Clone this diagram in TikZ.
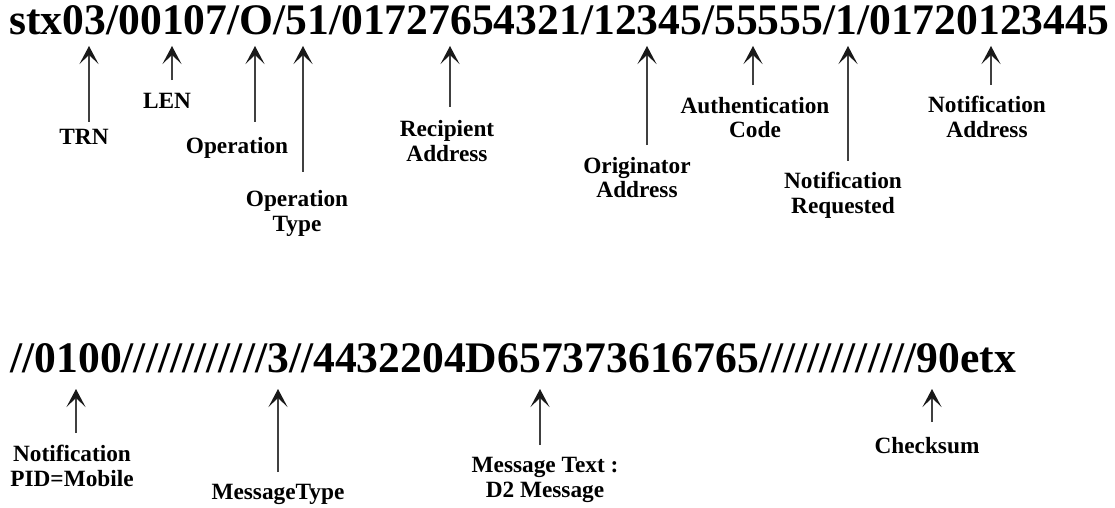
\documentclass[tikz,border=0pt]{standalone}
\usepackage{fontspec}
\setmainfont{Liberation Serif}
\usetikzlibrary{arrows.meta}
\begin{document}
\begin{tikzpicture}[x=0.5pt,y=-0.5pt,
  big/.style={inner sep=0pt, anchor=base west, font=\fontsize{21.8pt}{24pt}\selectfont\bfseries},
  lbl/.style={inner sep=0pt, anchor=north, align=center, font=\fontsize{11.65pt}{12.25pt}\selectfont\bfseries},
  arr/.style={draw=black!75, line width=0.6pt, -{Stealth[length=9pt,width=9.5pt,inset=4.5pt,color=black!90]}},
  gap/.style={shorten <=#1}
]
\useasboundingbox (0,0) rectangle (1115,508);
% message rows
\node[big] (row1) at (9,35) {stx03/00107/O/51/01727654321/12345/55555/1/01720123445};
\node[big] (row2) at (10,372) {//0100////////////3//4432204D657373616765/////////////90etx};
% arrow tips, row 1
\coordinate (tTRN) at (89,46);
\coordinate (tLEN) at (172,46);
\coordinate (tOp) at (255,46);
\coordinate (tOpT) at (303,46);
\coordinate (tRec) at (450,46);
\coordinate (tOrig) at (647,46);
\coordinate (tAuth) at (753,46);
\coordinate (tNReq) at (848,46);
\coordinate (tNAddr) at (991,46);
% arrow tips, row 2
\coordinate (tPID) at (76,389);
\coordinate (tMT) at (278,389);
\coordinate (tMsg) at (540,389);
\coordinate (tCk) at (932,389);
% labels, row 1
\node[lbl] (lTRN) at (84,129.3) {TRN};
\node[lbl] (lLEN) at (167,93.3) {LEN};
\node[lbl] (lOp) at (237,136.7) {Operation};
\node[lbl] (lOpT) at (297,190) {Operation\\Type};
\node[lbl] (lRec) at (447,120) {Recipient\\Address};
\node[lbl] (lOrig) at (637,156.7) {Originator\\Address};
\node[lbl] (lAuth) at (755,96.7) {Authentication\\Code};
\node[lbl] (lNReq) at (843,171.7) {Notification\\Requested};
\node[lbl] (lNAddr) at (987,96) {Notification\\Address};
% labels, row 2
\node[lbl] (lPID) at (72,445) {Notification\\PID=Mobile};
\node[lbl] (lMT) at (278,484) {MessageType};
\node[lbl] (lMsg) at (545,457) {Message Text :\\D2 Message};
\node[lbl] (lCk) at (927,437) {Checksum};
% connectors
\draw[arr,gap=3.8pt] (lTRN.north -| tTRN) -- (tTRN);
\draw[arr,gap=6.6pt] (lLEN.north -| tLEN) -- (tLEN);
\draw[arr,gap=7.5pt] (lOp.north -| tOp) -- (tOp);
\draw[arr,gap=9.1pt] (lOpT.north -| tOpT) -- (tOpT);
\draw[arr,gap=6.6pt] (lRec.north -| tRec) -- (tRec);
\draw[arr,gap=5.8pt] (lOrig.north -| tOrig) -- (tOrig);
\draw[arr,gap=5.8pt] (lAuth.north -| tAuth) -- (tAuth);
\draw[arr,gap=5.5pt] (lNReq.north -| tNReq) -- (tNReq);
\draw[arr,gap=5.5pt] (lNAddr.north -| tNAddr) -- (tNAddr);
\draw[arr,gap=6pt] (lPID.north -| tPID) -- (tPID);
\draw[arr,gap=6pt] (lMT.north -| tMT) -- (tMT);
\draw[arr,gap=6pt] (lMsg.north -| tMsg) -- (tMsg);
\draw[arr,gap=7.5pt] (lCk.north -| tCk) -- (tCk);
\end{tikzpicture}
\end{document}
